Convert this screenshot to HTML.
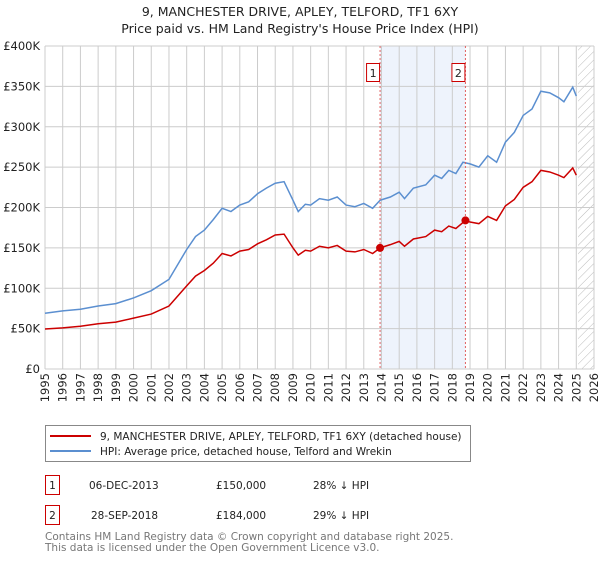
<!DOCTYPE html>
<html><head><meta charset="utf-8"><style>
body{margin:0;background:#fff;font-family:"DejaVu Sans","Liberation Sans",sans-serif;}
svg text{font-family:"DejaVu Sans","Liberation Sans",sans-serif;}
</style></head><body>
<svg id="c" width="600" height="560" xmlns="http://www.w3.org/2000/svg">
<defs><pattern id="hatch" width="6" height="6" patternUnits="userSpaceOnUse" patternTransform="rotate(45)"><line x1="0" y1="0" x2="0" y2="6" stroke="#bbb" stroke-width="1"/></pattern></defs>
<text x="300" y="16" text-anchor="middle" font-size="12.5" fill="#222">9, MANCHESTER DRIVE, APLEY, TELFORD, TF1 6XY</text>
<text x="300" y="33" text-anchor="middle" font-size="12.5" fill="#222">Price paid vs. HM Land Registry's House Price Index (HPI)</text>
<g id="grid"></g><g id="series"></g><g id="marks"></g>
<g>
<rect x="45.5" y="425.5" width="425" height="36" fill="#fff" stroke="#888"/>
<line x1="50" y1="436" x2="91" y2="436" stroke="#cc0000" stroke-width="2"/>
<text x="100" y="440" font-size="10.5" fill="#222">9, MANCHESTER DRIVE, APLEY, TELFORD, TF1 6XY (detached house)</text>
<line x1="50" y1="451" x2="91" y2="451" stroke="#5b8fd0" stroke-width="2"/>
<text x="100" y="455" font-size="10.5" fill="#222">HPI: Average price, detached house, Telford and Wrekin</text>
</g>
<g font-size="10.5" fill="#222">
<rect x="45.5" y="475.5" width="14" height="19" fill="none" stroke="#cc0000"/>
<text x="52.5" y="489" text-anchor="middle">1</text>
<text x="89" y="489">06-DEC-2013</text><text x="216" y="489">£150,000</text><text x="313" y="489">28% ↓ HPI</text>
<rect x="45.5" y="505.5" width="14" height="19" fill="none" stroke="#cc0000"/>
<text x="52.5" y="519" text-anchor="middle">2</text>
<text x="91" y="519">28-SEP-2018</text><text x="216" y="519">£184,000</text><text x="313" y="519">29% ↓ HPI</text>
</g>
<text x="45" y="540" font-size="10.5" fill="#777">Contains HM Land Registry data © Crown copyright and database right 2025.</text>
<text x="45" y="551" font-size="10.5" fill="#777">This data is licensed under the Open Government Licence v3.0.</text>
</svg>
<script>
const yearTicks=[1995,1996,1997,1998,1999,2000,2001,2002,2003,2004,2005,2006,2007,2008,2009,2010,2011,2012,2013,2014,2015,2016,2017,2018,2019,2020,2021,2022,2023,2024,2025,2026];
const valueTicks=[0,50000,100000,150000,200000,250000,300000,350000,400000];
const valueTickLabels=["£0","£50K","£100K","£150K","£200K","£250K","£300K","£350K","£400K"];
const hpiDates=[1995,1996,1997,1998,1999,2000,2001,2002,2003,2003.5,2004,2004.5,2005,2005.5,2006,2006.5,2007,2007.5,2008,2008.5,2009,2009.3,2009.7,2010,2010.5,2011,2011.5,2012,2012.5,2013,2013.5,2013.92,2014.5,2015,2015.3,2015.8,2016.5,2017,2017.4,2017.8,2018.2,2018.6,2019,2019.5,2020,2020.5,2021,2021.5,2022,2022.5,2023,2023.5,2024,2024.3,2024.8,2025];
const hpiValues=[69,72,74,78,81,88,97,111,148,164,172,185,199,195,203,207,217,224,230,232,209,195,204,203,211,209,213,203,201,205,199,209,213,219,211,224,228,240,236,246,242,256,254,250,264,256,281,293,314,322,344,342,336,331,349,338];
const propDates=[1995,1996,1997,1998,1999,2000,2001,2002,2003,2003.5,2004,2004.5,2005,2005.5,2006,2006.5,2007,2007.5,2008,2008.5,2009,2009.3,2009.7,2010,2010.5,2011,2011.5,2012,2012.5,2013,2013.5,2013.92,2014.5,2015,2015.3,2015.8,2016.5,2017,2017.4,2017.8,2018.2,2018.74,2019,2019.5,2020,2020.5,2021,2021.5,2022,2022.5,2023,2023.5,2024,2024.3,2024.8,2025];
const propValues=[49.5,51,53,56,58,63,68,78,103,115,122,131,143,140,146,148,155,160,166,167,150,141,147,146,152,150,153,146,145,148,143,150,154,158,152,161,164,172,170,177,174,184,182,180,189,184,202,210,225,232,246,244,240,237,249,240];
const saleDates=[2013.92,2018.74];
const salePrices=[150000,184000];
const saleLabels=["1","2"];
const x0=45,x1=594,y0=369,y1=46;
const X=t=>x0+(t-1995)/(2026-1995)*(x1-x0);
const Y=v=>y0-v/400000*(y0-y1);
const NS="http://www.w3.org/2000/svg";
function mk(p,tag,at){const e=document.createElementNS(NS,tag);for(const k in at)e.setAttribute(k,at[k]);p.appendChild(e);return e;}
const grid=document.getElementById('grid'),ser=document.getElementById('series'),marks=document.getElementById('marks');
const band=mk(grid,'rect',{x:X(saleDates[0]),y:y1,width:X(saleDates[1])-X(saleDates[0]),height:y0-y1,fill:'#eef3fc'});


const hatch=mk(grid,'rect',{x:X(2025.1),y:y1,width:x1-X(2025.1),height:y0-y1,fill:'url(#hatch)'});


yearTicks.forEach(t=>{
 const l=mk(grid,'line',{x1:X(t),x2:X(t),y1:y1,y2:y0,stroke:'#ccc','stroke-width':1});
 
 
 const tx=mk(grid,'text',{x:0,y:0,'font-size':11.5,fill:'#222','text-anchor':'end',transform:`translate(${X(t)+4},${y0+4}) rotate(-90)`});
 tx.textContent=t;
 
 
});
valueTicks.forEach((v,i)=>{
 const l=mk(grid,'line',{x1:x0,x2:x1,y1:Y(v),y2:Y(v),stroke:'#ccc','stroke-width':1});
 
 
 const tx=mk(grid,'text',{x:40,y:Y(v)+4,'font-size':11.5,fill:'#222','text-anchor':'end'});
 tx.textContent=valueTickLabels[i];
 
 
});
const hp=mk(ser,'polyline',{points:hpiDates.map((d,i)=>X(d)+','+Y(hpiValues[i]*1000)).join(' '),fill:'none',stroke:'#5b8fd0','stroke-width':1.5});


const pp=mk(ser,'polyline',{points:propDates.map((d,i)=>X(d)+','+Y(propValues[i]*1000)).join(' '),fill:'none',stroke:'#cc0000','stroke-width':1.5});


saleDates.forEach((d,i)=>{
 const l=mk(marks,'line',{x1:X(d),x2:X(d),y1:y1,y2:y0,stroke:'#e06060','stroke-width':1,'stroke-dasharray':'2,2'});
 
 
 const c=mk(marks,'circle',{cx:X(d),cy:Y(salePrices[i]),r:4,fill:'#cc0000'});
 
 
 const b=mk(marks,'rect',{x:X(d)-13.5,y:63.5,width:13,height:18,fill:'#fff',stroke:'#cc0000'});
 
 
 const t=mk(marks,'text',{x:X(d)-7,y:77,'font-size':11,fill:'#222','text-anchor':'middle'});
 t.textContent=saleLabels[i];
 
 
});
</script>
</body></html>
